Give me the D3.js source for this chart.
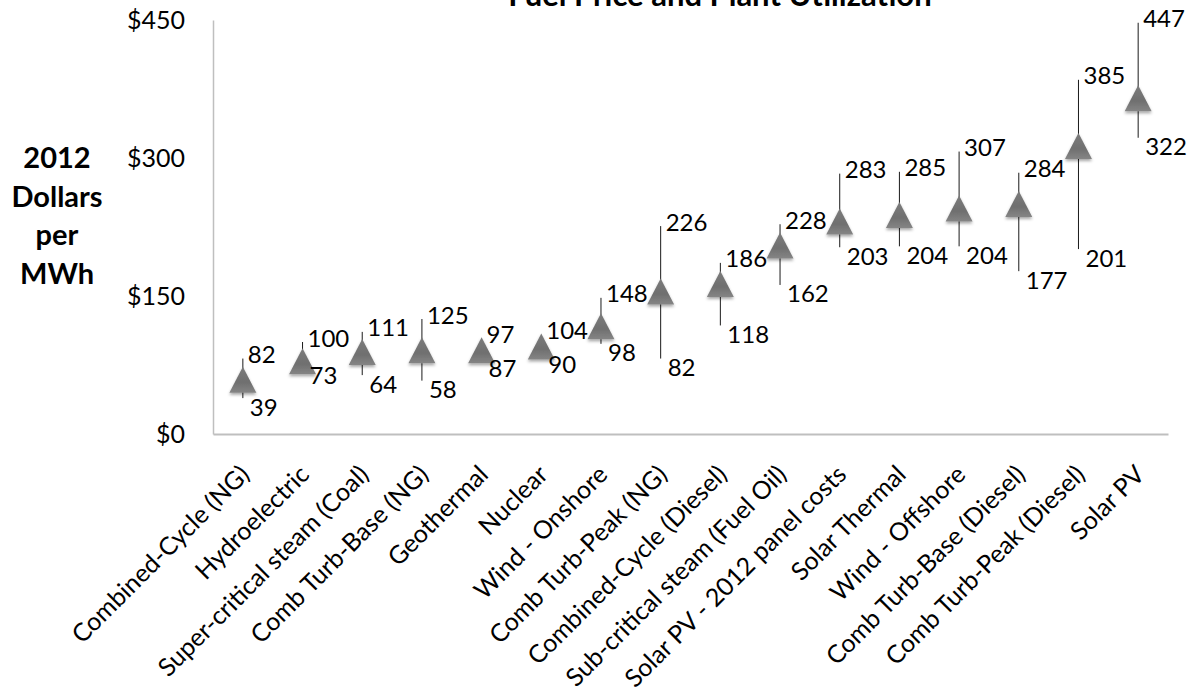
<!DOCTYPE html>
<html>
<head>
<meta charset="utf-8">
<script src="https://cdn.jsdelivr.net/npm/d3@7"></script>
<style>
  body { margin: 0; background: #fff; }
  svg { display: block; font-family: Lato, "Open Sans", sans-serif; }
</style>
</head>
<body>
<div id="chart"></div>
<script>
let width = 1194, height = 696;

// values
let categories = ["Combined-Cycle (NG)", "Hydroelectric", "Super-critical steam (Coal)", "Comb Turb-Base (NG)",
    "Geothermal", "Nuclear", "Wind - Onshore", "Comb Turb-Peak (NG)", "Combined-Cycle (Diesel)",
    "Sub-critical steam (Fuel Oil)", "Solar PV - 2012 panel costs", "Solar Thermal", "Wind - Offshore",
    "Comb Turb-Base (Diesel)", "Comb Turb-Peak (Diesel)", "Solar PV"];
let highVals = [82, 100, 111, 125, 97, 104, 148, 226, 186, 228, 283, 285, 307, 284, 385, 447];
let lowVals  = [39, 73, 64, 58, 87, 90, 98, 82, 118, 162, 203, 204, 204, 177, 201, 322];
let midVals  = [59, 79, 89, 91, 91, 95, 117, 155, 163, 205, 231, 238, 245, 250, 313, 365];
let yTicks = [0, 150, 300, 450];

let margin = {left: 213, right: 26, top: 20, bottom: 262};

let x = d3.scaleBand()
    .domain(categories)
    .range([margin.left, width - margin.right]);

let y = d3.scaleLinear()
    .domain([0, 450])
    .range([height - margin.bottom, margin.top]);

let rows = categories.map((c, i) => ({cat: c, hi: highVals[i], lo: lowVals[i], mid: midVals[i]}));

let svg = d3.select("#chart").append("svg")
    .attr("width", width)
    .attr("height", height);

let defs = svg.append("defs");
let grad = defs.append("linearGradient").attr("id", "tri").attr("x1", 0).attr("y1", 0).attr("x2", 0).attr("y2", 1);
grad.append("stop").attr("offset", "0%").attr("stop-color", "#7c7c7c");
grad.append("stop").attr("offset", "60%").attr("stop-color", "#6f6f6f");
grad.append("stop").attr("offset", "100%").attr("stop-color", "#858585");
let shadow = defs.append("filter").attr("id", "shadow").attr("x", "-30%").attr("y", "-30%").attr("width", "160%").attr("height", "160%");
shadow.append("feDropShadow").attr("dx", 0).attr("dy", 2).attr("stdDeviation", 1.5).attr("flood-color", "#000").attr("flood-opacity", 0.35);

// title (cut off at the top like the original)
svg.append("text")
    .attr("x", 720).attr("y", 6)
    .attr("text-anchor", "middle")
    .style("font-weight", "bold").style("font-size", "31px")
    .text("Fuel Price and Plant Utilization");

// axes
let yAxis = svg.append("g")
    .attr("transform", `translate(${margin.left},0)`)
    .call(d3.axisLeft(y).tickValues(yTicks).tickSize(0).tickPadding(28).tickFormat(d => "$" + d));
yAxis.select(".domain").attr("stroke", "#bfbfbf").attr("stroke-width", 1.5);
yAxis.selectAll("text").style("font-size", "25px").attr("fill", "#000").attr("font-family", "Lato");

let xAxis = svg.append("g")
    .attr("transform", `translate(0,${y(0)})`)
    .call(d3.axisBottom(x).tickSize(0).tickFormat(""));
xAxis.select(".domain").attr("stroke", "#bfbfbf").attr("stroke-width", 2);

// rotated category labels
svg.append("g").selectAll("text")
    .data(categories)
    .enter().append("text")
    .attr("transform", d => `translate(${x(d) + x.bandwidth() / 2 + 1},${y(0) + 35}) rotate(-45)`)
    .attr("text-anchor", "end")
    .attr("dominant-baseline", "central")
    .style("font-size", "25px")
    .text(d => d);

// y axis title
let ytitle = svg.append("text")
    .attr("text-anchor", "middle")
    .style("font-weight", "bold").style("font-size", "29px");
["2012", "Dollars", "per", "MWh"].forEach(function(t, i) {
    ytitle.append("tspan").attr("x", 57).attr("y", 168 + i * 38.5).text(t);
});

// high-low lines
let cx = d => x(d.cat) + x.bandwidth() / 2;
svg.append("g").selectAll("line")
    .data(rows)
    .enter().append("line")
    .attr("x1", cx).attr("x2", cx)
    .attr("y1", d => y(d.hi)).attr("y2", d => y(d.lo))
    .attr("stroke", "#1a1a1a").attr("stroke-width", 1);

// triangle markers, box-centred on the value
let tri = {
    draw: function(context) {
        context.moveTo(0, -13);
        context.lineTo(13.5, 13);
        context.lineTo(-13.5, 13);
        context.closePath();
    }
};
svg.append("g").selectAll("path")
    .data(rows)
    .enter().append("path")
    .attr("d", d3.symbol(tri))
    .attr("transform", d => `translate(${cx(d)},${y(d.mid)})`)
    .attr("fill", "url(#tri)")
    .attr("filter", "url(#shadow)");

// value labels; pull the pair apart when the range is short
rows.forEach(function(d) {
    d.hiY = y(d.hi) - 5;
    d.loY = y(d.lo) + 8;
    let gap = d.loY - d.hiY;
    if (gap < 34) {
        d.hiY -= (34 - gap) / 2;
        d.loY += (34 - gap) / 2;
    }
});
let labels = svg.append("g").style("font-size", "24px");
labels.selectAll(".hi")
    .data(rows)
    .enter().append("text")
    .attr("class", "hi")
    .attr("x", d => cx(d) + 5)
    .attr("y", d => d.hiY)
    .attr("dominant-baseline", "central")
    .text(d => d.hi);
labels.selectAll(".lo")
    .data(rows)
    .enter().append("text")
    .attr("class", "lo")
    .attr("x", d => cx(d) + 7)
    .attr("y", d => d.loY)
    .attr("dominant-baseline", "central")
    .text(d => d.lo);
</script>
</body>
</html>
